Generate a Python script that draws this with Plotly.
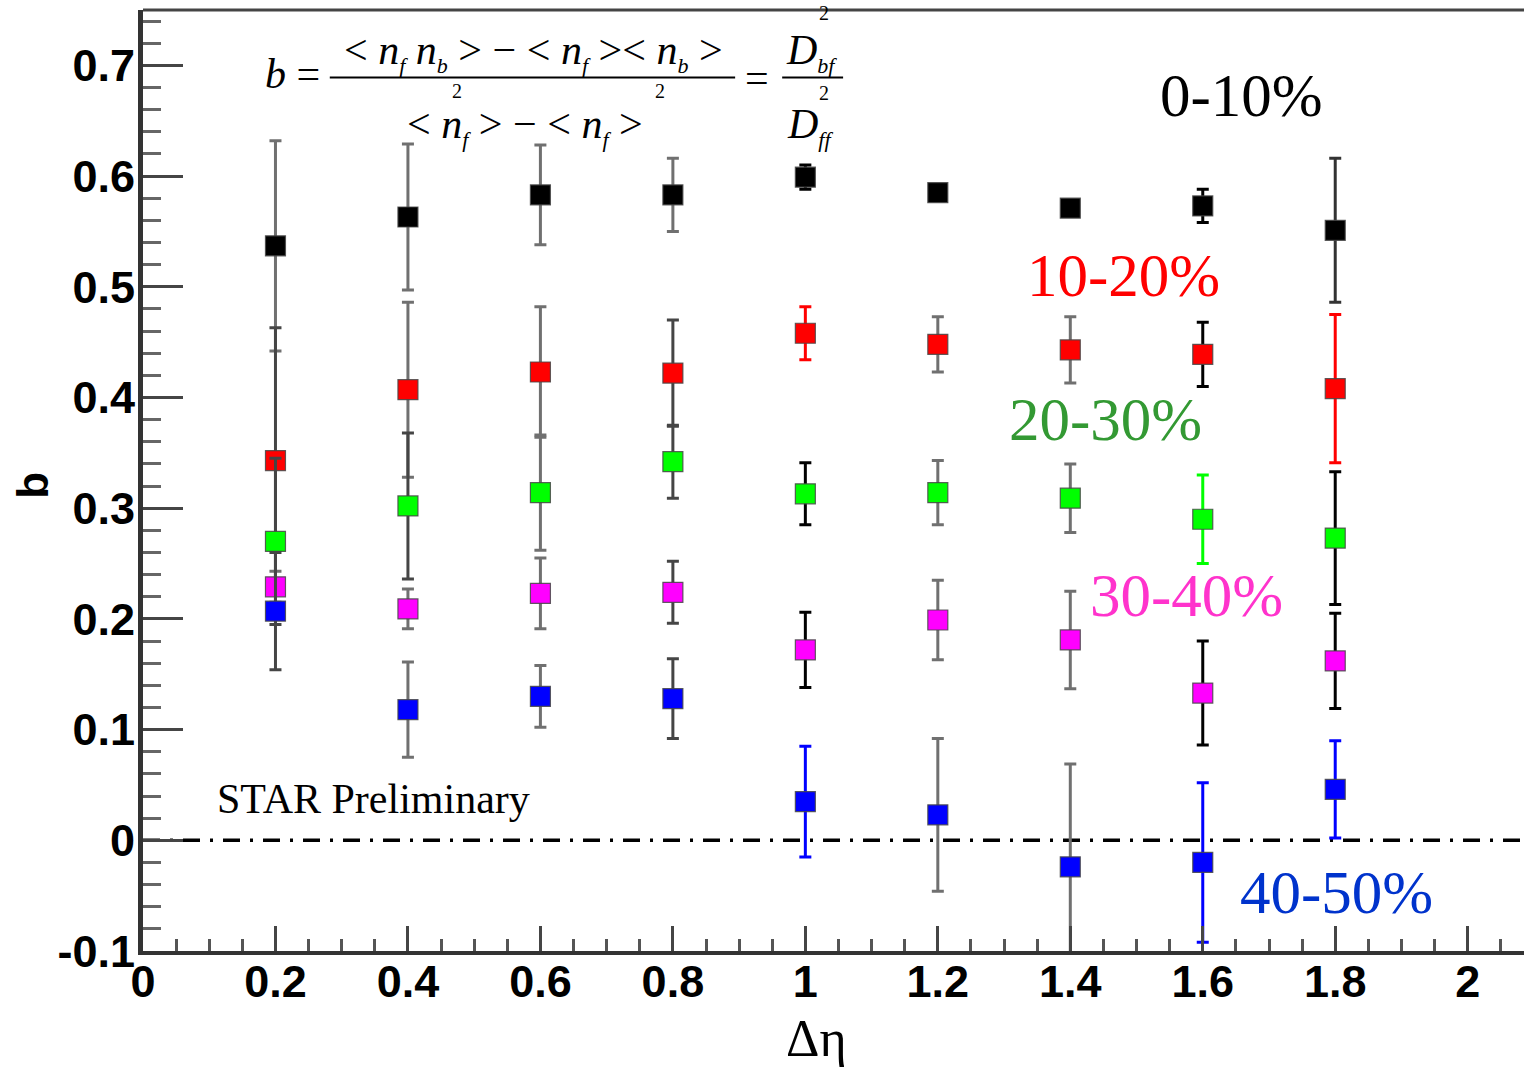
import numpy as np
import plotly.graph_objects as go

# Forward-backward correlation strength b versus pseudorapidity gap, by centrality
delta_eta = [0.2, 0.4, 0.6, 0.8, 1.0, 1.2, 1.4, 1.6, 1.8]

b_0_10 = [0.537, 0.563, 0.583, 0.583, 0.599, 0.585, 0.571, 0.573, 0.551]
err_0_10 = [0.095, 0.066, 0.045, 0.033, 0.011, 0.007, 0.005, 0.015, 0.065]

b_10_20 = [0.343, 0.407, 0.423, 0.422, 0.458, 0.448, 0.443, 0.439, 0.408]
err_10_20 = [0.120, 0.079, 0.059, 0.048, 0.024, 0.025, 0.030, 0.029, 0.067]

b_20_30 = [0.270, 0.302, 0.314, 0.342, 0.313, 0.314, 0.309, 0.290, 0.273]
err_20_30 = [0.075, 0.066, 0.052, 0.033, 0.028, 0.029, 0.031, 0.040, 0.060]

b_30_40 = [0.229, 0.209, 0.223, 0.224, 0.172, 0.199, 0.181, 0.133, 0.162]
err_30_40 = [0.014, 0.018, 0.032, 0.028, 0.034, 0.036, 0.044, 0.047, 0.043]

b_40_50 = [0.207, 0.118, 0.130, 0.128, 0.035, 0.023, -0.024, -0.020, 0.046]
err_40_50 = [0.053, 0.043, 0.028, 0.036, 0.050, 0.069, 0.093, 0.072, 0.044]

centrality_labels = ["0-10%", "10-20%", "20-30%", "30-40%", "40-50%"]

y_tick_values = [-0.1, 0.0, 0.1, 0.2, 0.3, 0.4, 0.5, 0.6, 0.7]
y_tick_labels = ["-0.1", "0", "0.1", "0.2", "0.3", "0.4", "0.5", "0.6", "0.7"]
x_tick_values = [0.0, 0.2, 0.4, 0.6, 0.8, 1.0, 1.2, 1.4, 1.6, 1.8, 2.0]
x_tick_labels = ["0", "0.2", "0.4", "0.6", "0.8", "1", "1.2", "1.4", "1.6", "1.8", "2"]

# ---- styling ----
GREY = "#707070"
DARK = "#454545"
marker_colours = ["#000000", "#ff0000", "#00ff00", "#ff00ff", "#0000ff"]
label_colours = ["#000000", "#ff0000", "#339933", "#ff33cc", "#0033cc"]
errbar_colours = [
    [GREY, GREY, GREY, GREY, "#000000", "#000000", "#000000", "#000000", "#333333"],
    [DARK, GREY, GREY, DARK, "#ff0000", GREY, GREY, "#000000", "#ff0000"],
    [DARK, DARK, GREY, DARK, "#000000", GREY, GREY, "#00ff00", "#000000"],
    [GREY, GREY, GREY, DARK, "#000000", GREY, GREY, "#000000", "#000000"],
    [DARK, GREY, GREY, DARK, "#0000ff", GREY, GREY, "#0000ff", "#0000ff"],
]

series = [
    (b_0_10, err_0_10),
    (b_10_20, err_10_20),
    (b_20_30, err_20_30),
    (b_30_40, err_30_40),
    (b_40_50, err_40_50),
]

fig = go.Figure()

for k, (vals, errs) in enumerate(series):
    for i, (x, v, e) in enumerate(zip(delta_eta, vals, errs)):
        fig.add_trace(go.Scatter(
            x=[x], y=[v],
            mode="markers",
            marker=dict(symbol="square", size=20, color=marker_colours[k],
                        line=dict(color="rgba(70,70,70,0.85)", width=1.2)),
            error_y=dict(type="data", array=[e], visible=True,
                         color=errbar_colours[k][i], thickness=3, width=6),
            showlegend=False,
            cliponaxis=True,
        ))

X_MAX = 2.085
Y_MIN, Y_MAX = -0.1, 0.75

# dash-dotted zero reference line
fig.add_shape(type="line", xref="x", yref="y", x0=0, x1=X_MAX, y0=0, y1=0,
              line=dict(color="black", width=3.5, dash="17px,10px,3px,10px"), layer="below")
# upper frame line
fig.add_shape(type="line", xref="paper", yref="paper", x0=0, x1=1, y0=1, y1=1,
              line=dict(color="#444444", width=3))

tick_font = dict(family="Liberation Sans", size=45, color="black", weight="bold")

fig.update_xaxes(
    range=[0, X_MAX], showgrid=False, zeroline=False,
    showline=True, linecolor="#333333", linewidth=4,
    tickmode="array", tickvals=x_tick_values, ticktext=x_tick_labels,
    ticks="inside", ticklen=25, tickwidth=3, tickcolor=DARK,
    tickfont=tick_font, ticklabelstandoff=-12,
    minor=dict(tickmode="array", tickvals=list(np.round(np.arange(0.05, 2.1, 0.05), 2)),
               ticks="inside", ticklen=12, tickwidth=3, tickcolor="#555555"),
)
fig.update_yaxes(
    range=[Y_MIN, Y_MAX], showgrid=False, zeroline=False,
    showline=True, linecolor="#333333", linewidth=5,
    tickmode="array", tickvals=y_tick_values, ticktext=y_tick_labels,
    ticks="inside", ticklen=40, tickwidth=3, tickcolor=DARK,
    tickfont=tick_font, ticklabelstandoff=-6,
    minor=dict(tickmode="array", tickvals=list(np.round(np.arange(-0.08, 0.75, 0.02), 2)),
               ticks="inside", ticklen=18, tickwidth=3, tickcolor="#666666"),
)

serif = "Liberation Serif"
annotations = []

# axis titles
annotations.append(dict(text="b", xref="paper", yref="paper", x=-0.08, y=0.495,
                        xanchor="center", yanchor="middle",
                        textangle=-90, showarrow=False,
                        font=dict(family="Liberation Sans", size=44, color="black", weight="bold")))
annotations.append(dict(text="Δη", xref="paper", yref="paper", x=0.488, y=-0.093,
                        xanchor="center", yanchor="middle",
                        showarrow=False, font=dict(family=serif, size=52, color="black")))

# centrality labels
label_pos = [(1.532, 0.673), (1.331, 0.510), (1.304, 0.380), (1.427, 0.221), (1.653, -0.047)]
for text, colour, (lx, ly) in zip(centrality_labels, label_colours, label_pos):
    annotations.append(dict(text=text, x=lx, y=ly, xref="x", yref="y", xanchor="left",
                            yanchor="middle", showarrow=False,
                            font=dict(family=serif, size=61, color=colour)))

annotations.append(dict(text="STAR Preliminary", x=0.108, y=0.037, xref="x", yref="y",
                        xanchor="left", yanchor="middle", showarrow=False,
                        font=dict(family=serif, size=42, color="black")))

# definition of b
ffont = dict(family=serif, size=42, color="black")
small = dict(family=serif, size=20, color="black")


def nsub(s):
    return "<i>n</i><sub><span style='font-size:22px'><i>%s</i></span></sub>" % s


numerator = ("&lt; " + nsub("f") + " " + nsub("b") + " &gt; − &lt; " + nsub("f")
             + " &gt;&lt; " + nsub("b") + " &gt;")
denominator = "&lt; " + nsub("f") + " &gt; − &lt; " + nsub("f") + " &gt;"

formula = [
    ("<i>b</i> =", 0.181, 0.692, "left", ffont),
    (numerator, 0.589, 0.712, "center", ffont),
    (denominator, 0.577, 0.645, "center", ffont),
    ("2", 0.474, 0.677, "center", small),
    ("2", 0.780, 0.677, "center", small),
    ("=", 0.927, 0.689, "center", ffont),
    ("<i>D</i><sub><span style='font-size:22px'><i>bf</i></span></sub>", 1.010, 0.712, "center", ffont),
    ("2", 1.028, 0.747, "center", small),
    ("<i>D</i><sub><span style='font-size:22px'><i>ff</i></span></sub>", 1.007, 0.645, "center", ffont),
    ("2", 1.028, 0.675, "center", small),
]
for text, fx, fy, anchor, fnt in formula:
    annotations.append(dict(text=text, x=fx, y=fy, xref="x", yref="y", xanchor=anchor,
                            yanchor="middle", showarrow=False, font=fnt))

fig.add_shape(type="line", xref="x", yref="y", x0=0.282, x1=0.894, y0=0.689, y1=0.689,
              line=dict(color="black", width=2))
fig.add_shape(type="line", xref="x", yref="y", x0=0.965, x1=1.057, y0=0.689, y1=0.689,
              line=dict(color="black", width=2))

fig.update_layout(
    width=1524, height=1070,
    margin=dict(l=143, r=0, t=10, b=119),
    paper_bgcolor="white", plot_bgcolor="white",
    annotations=annotations,
    showlegend=False,
)

fig.write_html("out.html")
